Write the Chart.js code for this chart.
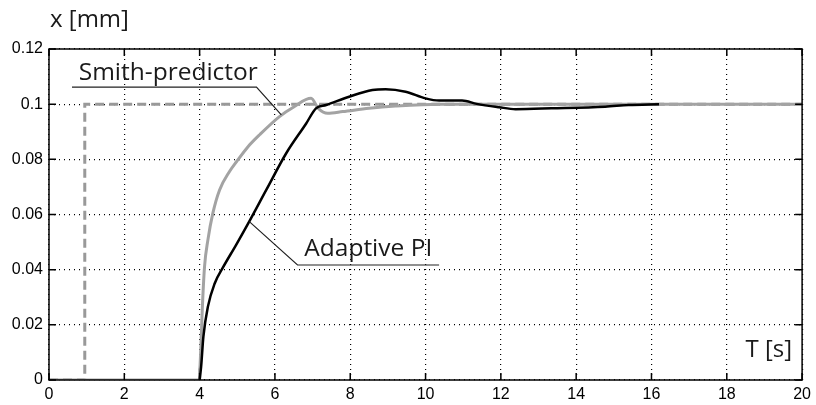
<!DOCTYPE html>
<html>
<head>
<meta charset="utf-8">
<script src="https://cdn.jsdelivr.net/npm/chart.js@4.4.1/dist/chart.umd.min.js"></script>
<style>
	html, body { margin: 0; padding: 0; background: #fff; }
	#wrap { width: 816px; height: 405px; }
</style>
</head>
<body>
<div id="wrap"><canvas id="mycanvas" width="816" height="405"></canvas></div>
<script>
// reference step (dashed)
var refT = [0, 0.95, 0.95, 20];
var refX = [0, 0, 0.1, 0.1];

// Smith-predictor response (grey)
var smithT = [0, 4, 4.0, 4.03, 4.07, 4.13, 4.22, 4.35, 4.53, 4.79, 5.0, 5.28, 5.6, 6.12, 6.5, 6.96, 7.15, 7.4, 7.8, 8.5, 9.2, 10.4, 20];
var smithX = [0, 0, 0.0036, 0.0109, 0.0254, 0.041, 0.0508, 0.0604, 0.0689, 0.0755, 0.0795, 0.0845, 0.089, 0.0955, 0.099, 0.1021, 0.0985, 0.0967, 0.0973, 0.0985, 0.0993, 0.1, 0.1];

// Adaptive PI response (black)
var piT = [4, 4.04, 4.1, 4.22, 4.4, 4.62, 4.97, 5.32, 5.77, 6.3, 6.83, 7.09, 7.36, 7.97, 8.59, 8.94, 9.47, 10.0, 10.36, 10.97, 11.36, 11.95, 12.39, 13.35, 14.77, 15.39, 16.2];
var piX = [0, 0.0048, 0.0157, 0.0266, 0.035, 0.0408, 0.049, 0.0575, 0.0689, 0.0822, 0.093, 0.0985, 0.0997, 0.1027, 0.1051, 0.1054, 0.1045, 0.1021, 0.1013, 0.1013, 0.1001, 0.0989, 0.0982, 0.0985, 0.0991, 0.0997, 0.1];

var xTicks = [0, 2, 4, 6, 8, 10, 12, 14, 16, 18, 20];
var yTicks = [0, 0.02, 0.04, 0.06, 0.08, 0.1, 0.12];
var yLabels = ['0', '0.02', '0.04', '0.06', '0.08', '0.1', '0.12'];

function pts(t, v) {
	var out = [];
	for (var i in t) out.push({x: t[i], y: v[i]});
	return out;
}

// inward ticks, box, axis titles and the two callouts
var decor = {
	id: 'decor',
	afterDraw: function(chart) {
		var ctx = chart.ctx, a = chart.chartArea;
		var sx = chart.scales.x, sy = chart.scales.y;
		ctx.save();
		ctx.strokeStyle = '#000';
		ctx.lineWidth = 1.5;
		ctx.strokeRect(a.left, a.top, a.right - a.left, a.bottom - a.top);
		ctx.beginPath();
		xTicks.forEach(function(t) {
			var px = sx.getPixelForValue(t);
			ctx.moveTo(px, a.bottom); ctx.lineTo(px, a.bottom - 7);
			ctx.moveTo(px, a.top); ctx.lineTo(px, a.top + 7);
		});
		yTicks.forEach(function(v) {
			var py = sy.getPixelForValue(v);
			ctx.moveTo(a.left, py); ctx.lineTo(a.left + 7, py);
			ctx.moveTo(a.right, py); ctx.lineTo(a.right - 7, py);
		});
		ctx.stroke();

		ctx.fillStyle = '#1a1a1a';
		ctx.textBaseline = 'alphabetic';
		ctx.textAlign = 'left';
		ctx.font = '24px "Open Sans"';
		ctx.fillText('x [mm]', 50, 27);
		ctx.textAlign = 'right';
		ctx.fillText('T [s]', a.right - 10, sy.getPixelForValue(0.0083));

		// Smith-predictor callout
		ctx.textAlign = 'left';
		ctx.font = '24.5px "Open Sans"';
		ctx.fillText('Smith-predictor', sx.getPixelForValue(0.79), sy.getPixelForValue(0.1088));
		ctx.lineWidth = 1.2;
		ctx.strokeStyle = '#222';
		ctx.beginPath();
		ctx.moveTo(sx.getPixelForValue(0.61), sy.getPixelForValue(0.1062));
		ctx.lineTo(sx.getPixelForValue(5.51), sy.getPixelForValue(0.1062));
		ctx.lineTo(sx.getPixelForValue(6.17), sy.getPixelForValue(0.0961));
		ctx.stroke();

		// Adaptive PI callout
		ctx.fillText('Adaptive PI', sx.getPixelForValue(6.78), sy.getPixelForValue(0.045));
		ctx.beginPath();
		ctx.moveTo(sx.getPixelForValue(10.36), sy.getPixelForValue(0.0417));
		ctx.lineTo(sx.getPixelForValue(6.6), sy.getPixelForValue(0.0417));
		ctx.lineTo(sx.getPixelForValue(5.32), sy.getPixelForValue(0.0574));
		ctx.stroke();
		ctx.restore();
	}
};

var ctx = document.getElementById('mycanvas');

var chart = new Chart(ctx, {
	type: 'line',
	data: {
		datasets: [
			{
				label: 'Adaptive PI',
				data: pts(piT, piX),
				borderColor: '#000',
				borderWidth: 2.5,
				pointRadius: 0,
				cubicInterpolationMode: 'monotone',
				order: 1
			},
			{
				label: 'Smith-predictor',
				data: pts(smithT, smithX),
				borderColor: '#a3a3a3',
				borderWidth: 3,
				pointRadius: 0,
				cubicInterpolationMode: 'monotone',
				order: 2
			},
			{
				label: 'Reference',
				data: pts(refT, refX),
				borderColor: '#999',
				borderWidth: 3,
				borderDash: [9, 5],
				pointRadius: 0,
				tension: 0,
				order: 3
			}
		]
	},
	options: {
		responsive: false,
		animation: false,
		layout: { padding: { top: 49, right: 12, left: 0, bottom: 0 } },
		plugins: { legend: { display: false }, tooltip: { enabled: false } },
		scales: {
			x: {
				type: 'linear',
				min: 0, max: 20,
				afterFit: function(s) { s.height = 25; },
				afterBuildTicks: function(s) { s.ticks = xTicks.map(function(v) { return {value: v}; }); },
				grid: { color: '#000', lineWidth: 1.2, drawTicks: false },
				border: { display: false, dash: [1, 4] },
				ticks: { color: '#000', font: { family: 'Liberation Sans', size: 16 }, padding: 5, maxRotation: 0 }
			},
			y: {
				type: 'linear',
				min: 0, max: 0.12,
				afterFit: function(s) { s.width = 49; },
				afterBuildTicks: function(s) { s.ticks = yTicks.map(function(v) { return {value: v}; }); },
				grid: { color: '#000', lineWidth: 1.2, drawTicks: false },
				border: { display: false, dash: [1, 4] },
				ticks: {
					color: '#000', font: { family: 'Liberation Sans', size: 16 }, padding: 6,
					callback: function(v, i) { return yLabels[i]; }
				}
			}
		}
	},
	plugins: [decor]
});
</script>
</body>
</html>
